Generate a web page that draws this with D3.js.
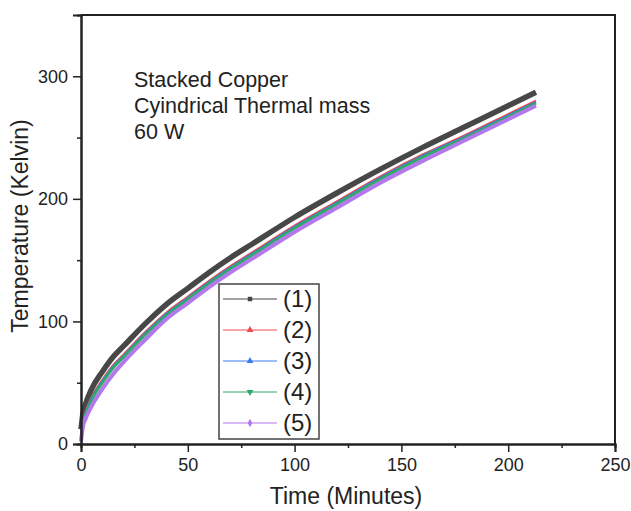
<!DOCTYPE html>
<html>
<head>
<meta charset="utf-8">
<script src="https://cdn.jsdelivr.net/npm/d3@7"></script>
<style>
  body { margin: 0; background: #fff; }
  text { font-family: "Liberation Sans", Arial, sans-serif; fill: #222; }
</style>
</head>
<body>
<div id="chart"></div>
<script>
// Data
let timeMin = [0, 1, 2, 5, 10, 15, 20, 30, 40, 50, 60, 70, 80, 100, 120, 140, 160, 180, 200, 213];
let temp1 = [12, 26, 32, 45, 59, 71, 80, 98, 114, 127, 140, 152, 163, 185, 205, 224, 242, 259, 276, 287];
let temp2 = [4, 18, 25, 38, 52, 64, 73, 91, 107, 120, 133, 145, 156, 178, 198, 218, 236, 252, 269, 280];
let temp3 = [2, 17, 24, 37, 51, 63, 72, 90, 106, 119, 132, 144, 155, 177, 197, 217, 235, 251, 268, 279];
let temp4 = [3, 16, 23, 36, 50, 62, 71, 89, 105, 118, 131, 143, 154, 176, 196, 216, 234, 250, 267, 278];
let temp5 = [2, 15, 20, 31, 45, 57, 67, 85, 102, 115, 128, 140, 151, 173, 193, 213, 231, 248, 265, 276];
let seriesNames = ['(1)', '(2)', '(3)', '(4)', '(5)'];
let xTicks = [0, 50, 100, 150, 200, 250];
let yTicks = [0, 100, 200, 300];
let noteLines = ['Stacked Copper', 'Cyindrical Thermal mass', '60 W'];

// Set svg and chart dimensions
let svgWidth = 631;
let svgHeight = 511;
let margins = { top: 15, bottom: 67, left: 81, right: 16 };
let chartWidth = svgWidth - margins.left - margins.right;
let chartHeight = svgHeight - margins.top - margins.bottom;

let svg = d3.select('#chart').append('svg')
    .attr('width', svgWidth)
    .attr('height', svgHeight);
let chart = svg.append('g')
    .attr('transform', `translate(${margins.left}, ${margins.top})`);

let xScale = d3.scaleLinear().domain([0, 250]).range([0, chartWidth]);
let yScale = d3.scaleLinear().domain([0, 350]).range([chartHeight, 0]);

let styles = [
    { color: '#474747', width: 5.5 },
    { color: '#f04848', width: 2.5 },
    { color: '#3a7cf0', width: 2.5 },
    { color: '#2fa86a', width: 3 },
    { color: '#b278ec', width: 4 }
];
let allTemps = [temp1, temp2, temp3, temp4, temp5];

// Frame (top and right)
chart.append('path')
    .attr('d', `M0,0 H${chartWidth} V${chartHeight}`)
    .attr('fill', 'none')
    .attr('stroke', '#222')
    .attr('stroke-width', 2);

// Curves
let line = d3.line()
    .x(d => xScale(d[0]))
    .y(d => yScale(d[1]))
    .curve(d3.curveMonotoneX);

allTemps.forEach((temps, i) => {
    let pts = timeMin.map((t, j) => [t, temps[j]]);
    chart.append('path')
        .datum(pts)
        .attr('d', line)
        .attr('fill', 'none')
        .attr('stroke', styles[i].color)
        .attr('stroke-width', styles[i].width);
});

// Axes
let xAxis = d3.axisBottom(xScale).tickValues(xTicks).tickSize(8).tickPadding(6);
let xMinor = d3.axisBottom(xScale).tickValues([25, 75, 125, 175, 225]).tickSize(4).tickFormat('');
let yAxis = d3.axisLeft(yScale).tickValues(yTicks).tickSize(8).tickPadding(5);
let yMinor = d3.axisLeft(yScale).tickValues([50, 150, 250]).tickSize(4).tickFormat('');

chart.append('g').attr('transform', `translate(0, ${chartHeight})`).call(xAxis);
chart.append('g').attr('transform', `translate(0, ${chartHeight})`).call(xMinor);
chart.append('g').call(yAxis);
chart.append('g').call(yMinor);

chart.selectAll('.domain').attr('stroke', '#222').attr('stroke-width', 2);
chart.selectAll('.tick line').attr('stroke', '#222').attr('stroke-width', 1.5);
chart.selectAll('.tick text').style('font-size', '18px')
    .style('font-family', '"Liberation Sans", Arial, sans-serif').attr('fill', '#222');

// Axis labels
svg.append('text')
    .attr('transform', `translate(346, 504)`)
    .attr('text-anchor', 'middle')
    .style('font-size', '23px')
    .text('Time (Minutes)');
svg.append('text')
    .attr('transform', `translate(28, 226) rotate(-90)`)
    .attr('text-anchor', 'middle')
    .style('font-size', '23px')
    .text('Temperature (Kelvin)');

// Annotation
svg.append('g').selectAll('text')
    .data(noteLines).enter()
    .append('text')
    .attr('x', 134)
    .attr('y', (d, i) => 87 + i * 26)
    .style('font-size', '21.5px')
    .text(d => d);

// Legend
let legend = svg.append('g').attr('transform', 'translate(219, 284)');
legend.append('rect')
    .attr('width', 100)
    .attr('height', 155)
    .attr('fill', '#fff')
    .attr('stroke', '#444')
    .attr('stroke-width', 1.5);
let legendItem = legend.selectAll('g.item')
    .data(seriesNames).enter()
    .append('g')
    .attr('class', 'item')
    .attr('transform', (d, i) => `translate(0, ${15 + i * 31})`);
legendItem.append('line')
    .attr('x1', 4).attr('x2', 58)
    .attr('stroke', (d, i) => styles[i].color)
    .attr('stroke-width', 1);
legendItem.append('path')
    .attr('d', (d, i) => d3.symbol()
        .type([d3.symbolSquare, d3.symbolTriangle, d3.symbolTriangle, d3.symbolTriangle, d3.symbolDiamond][i])
        .size(20)())
    .attr('fill', (d, i) => styles[i].color)
    .attr('transform', (d, i) => i === 3 ? 'translate(31, 0) rotate(180)' : 'translate(31, 0)');
legendItem.append('text')
    .attr('x', 64)
    .attr('y', 8)
    .style('font-size', '24px')
    .text(d => d);
</script>
</body>
</html>
